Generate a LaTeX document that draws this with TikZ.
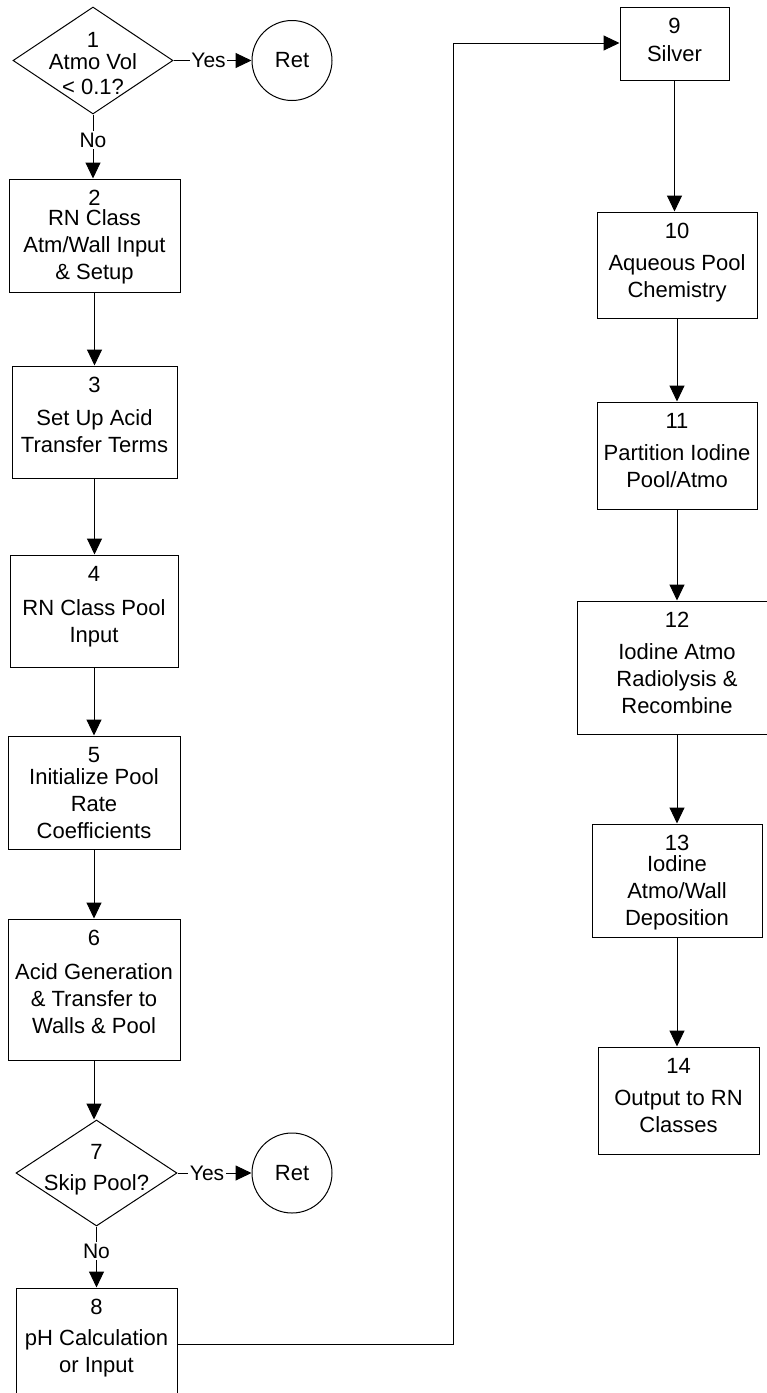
\documentclass[tikz,border=0pt]{standalone}
\usepackage{fontspec}
\setmainfont{Liberation Sans}
\usetikzlibrary{shapes.geometric,arrows.meta}
\tikzset
{
    procbox/.style   = {rectangle, draw=black, inner sep=0pt},
    decision/.style  = {diamond, draw=black, inner sep=0pt},
    retnode/.style   = {circle, draw=black, minimum size=80pt, inner sep=0pt, font=\fontsize{22}{27}\selectfont},
    boxtext/.style   = {align=center, anchor=north, inner sep=0pt, font=\fontsize{22}{27}\selectfont},
    flowlabel/.style = {fill=white, inner sep=1.5pt, font=\fontsize{21}{25}\selectfont}
}

\begin{document}
\begin{tikzpicture}[x=1pt, y=-1pt, line width=1pt, >={Triangle[length=16pt,width=15pt]}]
\useasboundingbox (0,0) rectangle (767,1393);

%% left column
\node (d1)  [decision, minimum width=160pt, minimum height=107pt]   at (93,60.5)     {};
\node (r1)  [retnode]                                               at (292,60.5)    {Ret};
\node (b2)  [procbox, minimum width=171pt, minimum height=113pt]    at (94.5,235.5)  {};
\node (b3)  [procbox, minimum width=165pt, minimum height=112pt]    at (94.5,422)    {};
\node (b4)  [procbox, minimum width=168pt, minimum height=112pt]    at (94,611)      {};
\node (b5)  [procbox, minimum width=172pt, minimum height=113pt]    at (94,792.5)    {};
\node (b6)  [procbox, minimum width=172pt, minimum height=141pt]    at (94,989.5)    {};
\node (d7)  [decision, minimum width=161pt, minimum height=106pt]   at (96.5,1173)   {};
\node (r7)  [retnode]                                               at (292,1173)    {Ret};
\node (b8)  [procbox, minimum width=161pt, minimum height=112pt]    at (96.5,1344)   {};

\node (d1t) [boxtext, yshift=-25pt]   at (d1.north) {1\\[-5pt] Atmo Vol\\[-2pt] < 0.1?};
\node (b2t) [boxtext, yshift=-11pt]   at (b2.north) {2\\[-7pt] RN Class\\ Atm/Wall Input\\ \& Setup};
\node (b3t) [boxtext, yshift=-11pt]   at (b3.north) {3\\[6pt] Set Up Acid\\ Transfer Terms};
\node (b4t) [boxtext, yshift=-11pt]   at (b4.north) {4\\[7pt] RN Class Pool\\ Input};
\node (b5t) [boxtext, yshift=-11pt]   at (b5.north) {5\\[-5pt] Initialize Pool\\ Rate\\ Coefficients};
\node (b6t) [boxtext, yshift=-11pt]   at (b6.north) {6\\[7pt] Acid Generation\\ \& Transfer to\\ Walls \& Pool};
\node (d7t) [boxtext, yshift=-24pt]   at (d7.north) {7\\[4pt] Skip Pool?};
\node (b8t) [boxtext, yshift=-11pt]   at (b8.north) {8\\[4pt] pH Calculation\\ or Input};

%% right column
\node (b9)  [procbox, minimum width=109pt, minimum height=73pt]     at (674.5,43.5)  {};
\node (b10) [procbox, minimum width=160pt, minimum height=106pt]    at (677,265)     {};
\node (b11) [procbox, minimum width=160pt, minimum height=107pt]    at (677,455.5)   {};
\node (b12) [procbox, minimum width=200pt, minimum height=133pt]    at (677,667.5)   {};
\node (b13) [procbox, minimum width=170pt, minimum height=113pt]    at (677,880.5)   {};
\node (b14) [procbox, minimum width=161pt, minimum height=107pt]    at (678.5,1100.5) {};

\node (b9t)  [boxtext, yshift=-11pt] at (b9.north)  {9\\[1pt] Silver};
\node (b10t) [boxtext, yshift=-11pt] at (b10.north) {10\\[5pt] Aqueous Pool\\ Chemistry};
\node (b11t) [boxtext, yshift=-11pt] at (b11.north) {11\\[5pt] Partition Iodine\\ Pool/Atmo};
\node (b12t) [boxtext, yshift=-11pt] at (b12.north) {12\\[5pt] Iodine Atmo\\ Radiolysis \&\\ Recombine};
\node (b13t) [boxtext, yshift=-11pt] at (b13.north) {13\\[-6pt] Iodine\\ Atmo/Wall\\ Deposition};
\node (b14t) [boxtext, yshift=-11pt] at (b14.north) {14\\[5pt] Output to RN\\ Classes};

\coordinate (jog) at (453,43);

\path
(d1)    edge[->]    node [flowlabel, pos=0.45]  {Yes}   (r1)
(d1)    edge[->]    node [flowlabel, pos=0.4]   {No}    (d1 |- b2.north)
(b2)    edge[->]                                        (b2 |- b3.north)
(b3)    edge[->]                                        (b3 |- b4.north)
(b4)    edge[->]                                        (b4 |- b5.north)
(b5)    edge[->]                                        (b5 |- b6.north)
(b6)    edge[->]                                        (b6 |- d7.north)
(d7)    edge[->]    node [flowlabel, pos=0.4]   {Yes}   (r7)
(d7)    edge[->]    node [flowlabel, pos=0.4]   {No}    (d7 |- b8.north);

\draw[->] (b8.east) -| (jog) -- (b9.west |- jog);

\path
(b9)    edge[->]    (b9 |- b10.north)
(b10)   edge[->]    (b10 |- b11.north)
(b11)   edge[->]    (b11 |- b12.north)
(b12)   edge[->]    (b12 |- b13.north)
(b13)   edge[->]    (b13 |- b14.north);

\end{tikzpicture}
\end{document}
